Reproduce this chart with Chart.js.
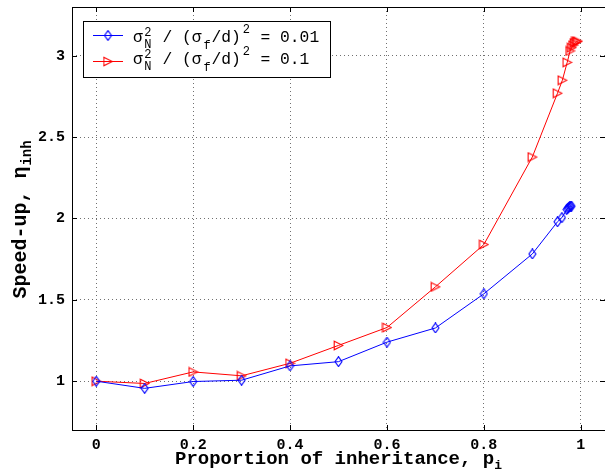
<!DOCTYPE html>
<html><head><meta charset="utf-8">
<script src="https://cdn.jsdelivr.net/npm/chart.js@4.4.0/dist/chart.umd.min.js"></script>
<style>
html,body{margin:0;padding:0;background:#fff;overflow:hidden;width:605px;height:475px}
#wrap{position:relative;width:605px;height:475px;overflow:hidden;background:#fff}
#c{position:absolute;left:0;top:0}
</style></head><body>
<div id="wrap"><canvas id="c" width="610" height="475"></canvas></div>
<script>
// ---- data ----
const pBlue = [0, 0.1, 0.2, 0.3, 0.4, 0.5, 0.6, 0.7, 0.8, 0.9, 0.952, 0.961, 0.971, 0.973, 0.975, 0.977, 0.979, 0.981];
const speedBlue = [1.0, 0.956, 0.998, 1.006, 1.094, 1.12, 1.24, 1.327, 1.537, 1.782, 1.98, 2.005, 2.055, 2.063, 2.068, 2.072, 2.075, 2.076];
const pRed = [0, 0.1, 0.2, 0.3, 0.4, 0.5, 0.6, 0.7, 0.8, 0.9, 0.952, 0.962, 0.972, 0.978, 0.981, 0.984, 0.987, 0.99, 0.992, 0.994];
const speedRed = [1.0, 0.986, 1.057, 1.033, 1.11, 1.22, 1.33, 1.58, 1.84, 2.378, 2.77, 2.85, 2.96, 3.03, 3.05, 3.065, 3.078, 3.085, 3.088, 3.09];
const xTicks = [0, 0.2, 0.4, 0.6, 0.8, 1];
const xTickLabels = ['0', '0.2', '0.4', '0.6', '0.8', '1'];
const yTicks = [1, 1.5, 2, 2.5, 3];
const yTickLabels = ['1', '1.5', '2', '2.5', '3'];
const legendValues = ['0.01', '0.1'];

const MONO = "'Liberation Mono', 'DejaVu Sans Mono', monospace";

function makeDiamond(color) {
  const c = document.createElement('canvas'); c.width = 9; c.height = 11;
  const g = c.getContext('2d');
  g.strokeStyle = color; g.lineWidth = 1.1;
  g.beginPath(); g.moveTo(4.5, 0.6); g.lineTo(8, 5.5); g.lineTo(4.5, 10.4); g.lineTo(1, 5.5); g.closePath(); g.stroke();
  return c;
}
function makeTriRight(color) {
  const c = document.createElement('canvas'); c.width = 11; c.height = 11;
  const g = c.getContext('2d');
  g.strokeStyle = color; g.lineWidth = 1.1;
  g.beginPath(); g.moveTo(1.2, 1.2); g.lineTo(10, 5.5); g.lineTo(1.2, 9.8); g.closePath(); g.stroke();
  return c;
}
const blueMarker = makeDiamond('#0000ff');
const redMarker = makeTriRight('#ff0000');

function drawRuns(ctx, x, y, items, slot) {
  items.forEach(it => {
    ctx.font = (it[4] || 'normal') + ' ' + it[2] + 'px ' + MONO;
    ctx.fillText(it[1], x + it[0] * slot, y + it[3]);
  });
}

const framePlugin = {
  id: 'frame',
  afterDatasetsDraw(chart) {
    const ctx = chart.ctx, a = chart.chartArea;
    const xs = chart.scales.x, ys = chart.scales.y;
    ctx.save();
    ctx.strokeStyle = '#000'; ctx.lineWidth = 1; ctx.setLineDash([]);
    ctx.beginPath();
    xTicks.forEach(v => {
      const px = Math.round(xs.getPixelForValue(v)) + 0.5;
      ctx.moveTo(px, a.bottom); ctx.lineTo(px, a.bottom - 5);
      ctx.moveTo(px, a.top); ctx.lineTo(px, a.top + 5);
    });
    yTicks.forEach(v => {
      const py = Math.round(ys.getPixelForValue(v)) + 0.5;
      ctx.moveTo(a.left, py); ctx.lineTo(a.left + 5, py);
      ctx.moveTo(a.right, py); ctx.lineTo(a.right - 5, py);
    });
    ctx.stroke();
    ctx.strokeRect(Math.round(a.left) + 0.5, Math.round(a.top) + 0.5, Math.round(a.right - a.left), Math.round(a.bottom - a.top));
    ctx.restore();
  },
  afterDraw(chart) {
    const ctx = chart.ctx, a = chart.chartArea;
    ctx.save();
    // legend
    const lx = 83.5, ly = 21.5, lw = 247, lh = 56;
    ctx.fillStyle = '#fff'; ctx.fillRect(lx, ly, lw, lh);
    ctx.strokeStyle = '#000'; ctx.lineWidth = 1; ctx.strokeRect(lx, ly, lw, lh);
    const rows = [
      {color: '#0000ff', marker: blueMarker, cy: 35, base: 42, val: legendValues[0]},
      {color: '#ff0000', marker: redMarker, cy: 61, base: 64, val: legendValues[1]}
    ];
    rows.forEach(r => {
      ctx.strokeStyle = r.color; ctx.lineWidth = 1;
      ctx.beginPath(); ctx.moveTo(93, r.cy + 0.5); ctx.lineTo(123, r.cy + 0.5); ctx.stroke();
      ctx.drawImage(r.marker, 108 - r.marker.width / 2, r.cy + 0.5 - r.marker.height / 2);
      ctx.fillStyle = '#000'; ctx.textBaseline = 'alphabetic'; ctx.textAlign = 'left';
      const M = 16.3, S = 12;
      const items = [
        [0, 'σ', M, 0], [1.15, '2', S, -6], [1.15, 'N', S, 6],
        [3, '/', M, 0], [5, '(', M, 0], [6, 'σ', M, 0], [7.2, 'f', S, 7],
        [8, '/', M, 0], [9, 'd', M, 0], [10, ')', M, 0], [11.2, '2', S, -9],
        [13, '=', M, 0]
      ];
      for (let i = 0; i < r.val.length; i++) items.push([15 + i, r.val[i], M, 0]);
      drawRuns(ctx, 133, r.base, items, 9.8);
    });
    // x title
    ctx.fillStyle = '#000'; ctx.textAlign = 'left'; ctx.textBaseline = 'alphabetic';
    const T = 19, TS = 13;
    ctx.font = 'bold ' + T + 'px ' + MONO;
    const xMain = 'Proportion of inheritance, p';
    const wMain = ctx.measureText(xMain).width;
    ctx.font = 'bold ' + TS + 'px ' + MONO;
    const wSub = ctx.measureText('i').width;
    const cx = (a.left + a.right) / 2;
    const sx = cx - (wMain + wSub) / 2;
    ctx.font = 'bold ' + T + 'px ' + MONO; ctx.fillText(xMain, sx, 464);
    ctx.font = 'bold ' + TS + 'px ' + MONO; ctx.fillText('i', sx + wMain, 469);
    // y title
    const YT = 20, YTS = 14;
    ctx.save();
    ctx.translate(26, 220);
    ctx.rotate(-Math.PI / 2);
    ctx.font = 'bold ' + YT + 'px ' + MONO;
    const yMain = 'Speed-up, η';
    const wy = ctx.measureText(yMain).width;
    ctx.font = 'bold ' + YTS + 'px ' + MONO;
    const wys = ctx.measureText('inh').width;
    const sy = -(wy + wys) / 2;
    ctx.font = 'bold ' + YT + 'px ' + MONO; ctx.fillText(yMain, sy, 0);
    ctx.font = 'bold ' + YTS + 'px ' + MONO; ctx.fillText('inh', sy + wy + 1, 5);
    ctx.restore();
    ctx.restore();
  }
};

const tickFont = {family: MONO, weight: 'bold', size: 15};

new Chart(document.getElementById('c'), {
  type: 'line',
  data: {
    datasets: [
      {
        label: 'σN² / (σf/d)² = ' + legendValues[0],
        data: pBlue.map((p, i) => ({x: p, y: speedBlue[i]})),
        borderColor: '#0000ff', borderWidth: 1, tension: 0, fill: false,
        pointStyle: blueMarker, pointRadius: 4, pointHoverRadius: 4
      },
      {
        label: 'σN² / (σf/d)² = ' + legendValues[1],
        data: pRed.map((p, i) => ({x: p, y: speedRed[i]})),
        borderColor: '#ff0000', borderWidth: 1, tension: 0, fill: false,
        pointStyle: redMarker, pointRadius: 4, pointHoverRadius: 4
      }
    ]
  },
  options: {
    responsive: false,
    animation: false,
    events: [],
    layout: {padding: {top: 7, right: 2, left: 0, bottom: 0}},
    plugins: {legend: {display: false}, tooltip: {enabled: false}, title: {display: false}},
    scales: {
      x: {
        type: 'linear', min: -0.05, max: 1.05,
        afterBuildTicks(s) { s.ticks = xTicks.map(v => ({value: v})); },
        afterFit(s) { s.height = 45; s.paddingLeft = 0; s.paddingRight = 0; },
        ticks: {includeBounds: false, font: tickFont, color: '#000', padding: 6,
          maxRotation: 0, autoSkip: false,
          callback: (v, i) => xTickLabels[i]},
        grid: {color: '#707070', lineWidth: 1, drawTicks: false},
        border: {display: false, dash: [1, 3]}
      },
      y: {
        type: 'linear', min: 0.7, max: 3.3,
        afterBuildTicks(s) { s.ticks = yTicks.map(v => ({value: v})); },
        afterFit(s) { s.width = 72; s.paddingTop = 0; s.paddingBottom = 0; },
        ticks: {includeBounds: false, font: tickFont, color: '#000', padding: 7,
          autoSkip: false,
          callback: (v, i) => yTickLabels[i]},
        grid: {color: '#707070', lineWidth: 1, drawTicks: false},
        border: {display: false, dash: [1, 3]}
      }
    }
  },
  plugins: [framePlugin]
});
</script>
</body></html>
